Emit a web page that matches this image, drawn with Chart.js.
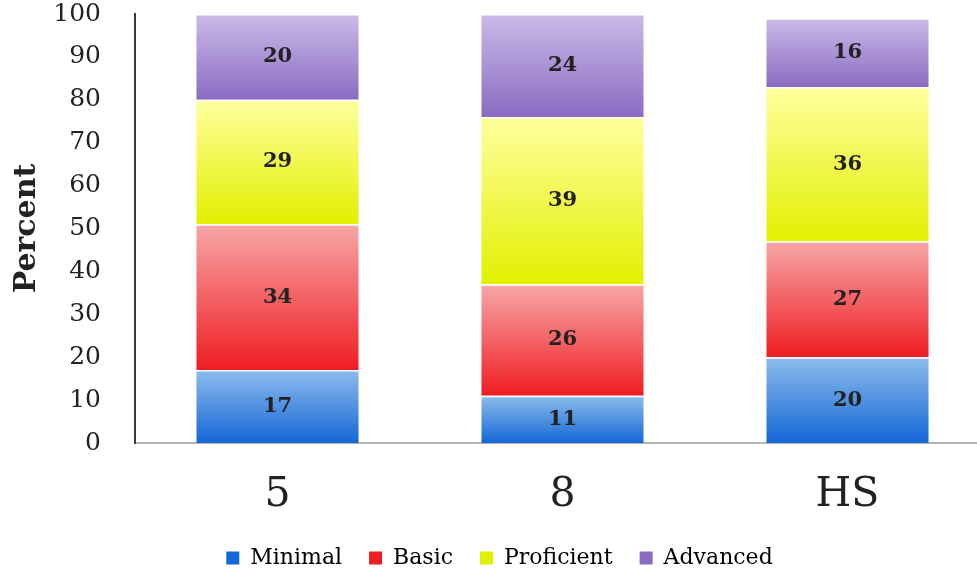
<!DOCTYPE html>
<html>
<head>
<meta charset="utf-8">
<script src="https://cdn.jsdelivr.net/npm/chart.js@4/dist/chart.umd.min.js"></script>
<style>
  html, body { margin: 0; padding: 0; background: #fff; overflow: hidden; }
  #wrap { width: 990px; height: 606px; margin-top: -27px; position: relative; }
</style>
</head>
<body>
<div id="wrap"><canvas id="chart"></canvas></div>
<script>
// Achievement levels by grade (percent)
const grades = ['5', '8', 'HS'];
const levels = ['Minimal', 'Basic', 'Proficient', 'Advanced'];
const minimal = [17, 11, 20];
const basic = [34, 26, 27];
const proficient = [29, 39, 36];
const advanced = [20, 24, 16];
const yTicks = [0, 10, 20, 30, 40, 50, 60, 70, 80, 90, 100];

// light top -> saturated bottom for each segment
const shades = [
    ['#8dbcec', '#1467d6'],
    ['#f7a7a7', '#ef1d22'],
    ['#ffff9e', '#e2f000'],
    ['#cbbbe8', '#8a6bc2']
];

const serif = "'DejaVu Serif', 'Liberation Serif', serif";

function segmentFill(ctx) {
    const chart = ctx.chart;
    const ds = ctx.datasetIndex;
    const [light, dark] = shades[ds];
    const y = chart.scales.y;
    if (!y || ctx.dataIndex === undefined) return dark;
    let base = 0;
    for (let k = 0; k < ds; k++) base += chart.data.datasets[k].data[ctx.dataIndex];
    const top = base + chart.data.datasets[ds].data[ctx.dataIndex];
    const g = chart.ctx.createLinearGradient(0, y.getPixelForValue(top), 0, y.getPixelForValue(base));
    g.addColorStop(0, light);
    g.addColorStop(1, dark);
    return g;
}

// value labels in the middle of each segment
const segmentLabels = {
    id: 'segmentLabels',
    afterDatasetsDraw(chart) {
        const c = chart.ctx;
        c.save();
        c.font = 'bold 21px ' + serif;
        c.fillStyle = '#222';
        c.textAlign = 'center';
        c.textBaseline = 'middle';
        chart.data.datasets.forEach((d, i) => {
            chart.getDatasetMeta(i).data.forEach((bar, j) => {
                c.fillText(String(d.data[j]), bar.x, (bar.y + bar.base) / 2);
            });
        });
        c.restore();
    }
};

const series = [minimal, basic, proficient, advanced];

new Chart(document.getElementById('chart'), {
    type: 'bar',
    data: {
        labels: grades,
        datasets: levels.map((name, i) => ({
            label: name,
            data: series[i],
            backgroundColor: segmentFill,
            borderColor: '#ffffff',
            borderWidth: { top: 1.5, bottom: 0, left: 0, right: 0 },
            borderSkipped: false,
            categoryPercentage: 1,
            barPercentage: 0.57
        }))
    },
    options: {
        responsive: true,
        maintainAspectRatio: false,
        animation: false,
        layout: { padding: { top: 15, left: 9, right: 0, bottom: 0 } },
        scales: {
            x: {
                stacked: true,
                grid: { display: false },
                border: { color: '#b4b4b4', width: 2 },
                ticks: { color: '#222', font: { family: serif, size: 41 }, padding: 20 },
                afterFit: s => { s.height = 77; }
            },
            y: {
                stacked: true,
                min: 0,
                max: 100,
                afterBuildTicks: s => { s.ticks = yTicks.map(v => ({ value: v })); },
                grid: { display: false },
                border: { color: '#3a3a3a', width: 2 },
                ticks: { color: '#222', font: { family: serif, size: 25 }, padding: 26 },
                title: {
                    display: true,
                    text: 'Percent',
                    color: '#222',
                    font: { family: serif, size: 30, weight: 'bold' },
                    padding: 0
                },
                afterFit: s => { s.width = 126; }
            }
        },
        plugins: {
            legend: {
                position: 'bottom',
                labels: {
                    color: '#222',
                    font: { family: serif, size: 22 },
                    boxWidth: 13,
                    boxHeight: 13,
                    padding: 27,
                    generateLabels: chart => levels.map((name, i) => ({
                        text: name,
                        fillStyle: shades[i][1],
                        strokeStyle: shades[i][1],
                        lineWidth: 0,
                        datasetIndex: i
                    }))
                }
            },
            tooltip: { enabled: false }
        }
    },
    plugins: [segmentLabels]
});
</script>
</body>
</html>
